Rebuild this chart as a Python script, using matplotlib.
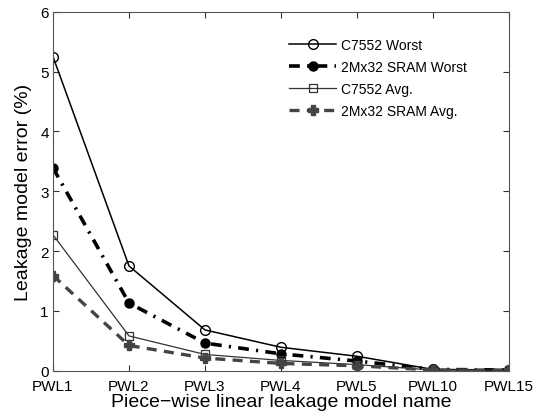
import matplotlib
matplotlib.use("Agg")
import matplotlib.pyplot as plt

plt.rcParams['font.family'] = ['Liberation Sans', 'DejaVu Sans']

models = ["PWL1", "PWL2", "PWL3", "PWL4", "PWL5", "PWL10", "PWL15"]
c7552_worst = [5.25, 1.75, 0.68, 0.39, 0.24, 0.02, 0.01]
sram_worst = [3.39, 1.13, 0.46, 0.28, 0.16, 0.02, 0.01]
c7552_avg = [2.27, 0.58, 0.27, 0.17, 0.10, 0.01, 0.01]
sram_avg = [1.59, 0.42, 0.21, 0.12, 0.08, 0.01, 0.01]
y_ticks = [0, 1, 2, 3, 4, 5, 6]

fig = plt.figure(figsize=(5.38, 4.14), dpi=100)
ax = fig.add_axes([0.0985, 0.1024, 0.8475, 0.8667])

x = list(range(len(models)))
ax.plot(x, c7552_worst, color='black', lw=1.1, marker='o', ms=7,
        mfc='none', mec='black', mew=1.0, label='C7552 Worst')
ax.plot(x, sram_worst, color='black', lw=2.6, ls=(0, (3, 2, 0.6, 2)),
        marker='o', ms=6.5, mfc='black', mec='black', label='2Mx32 SRAM Worst')
ax.plot(x, c7552_avg, color='#333333', lw=0.9, marker='s', ms=6,
        mfc='none', mec='#333333', mew=0.9, label='C7552 Avg.')
ax.plot(x, sram_avg, color='#444444', lw=2.4, ls=(0, (3, 2.2)),
        marker='P', ms=7, mfc='#444444', mec='#444444', label='2Mx32 SRAM Avg.')

ax.set_xlim(0, len(models) - 1)
ax.set_ylim(0, 6)
ax.set_xticks(x)
ax.set_xticklabels(models)
ax.set_yticks(y_ticks)
ax.tick_params(direction='in', top=True, right=True, labelsize=11, length=4,
               width=0.8, pad=3, colors='#333333', labelcolor='black')
ax.tick_params(axis='x', pad=6)
for s in ax.spines.values():
    s.set_color('#555555')
    s.set_linewidth(0.8)

ax.set_xlabel('Piece\u2212wise linear leakage model name', fontsize=14, labelpad=0)
ax.set_ylabel('Leakage model error (%)', fontsize=14, labelpad=6)

ax.legend(loc='upper left', bbox_to_anchor=(0.537, 0.906),
          bbox_transform=fig.transFigure, frameon=False, borderpad=0,
          borderaxespad=0, fontsize=10, handlelength=3.4, handletextpad=0.35,
          labelspacing=0.57)

fig.savefig('out.png', dpi=100)
